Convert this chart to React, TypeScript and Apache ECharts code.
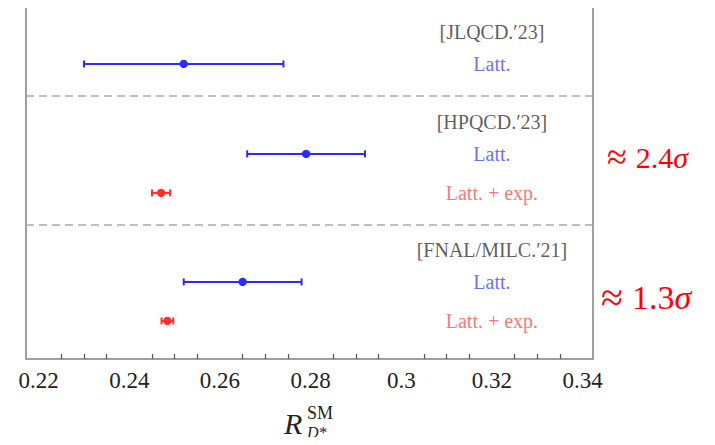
import React, { useEffect, useRef } from "react";
import * as echarts from "echarts";

// ---- data ----
const collaborations = ["[JLQCD.′23]", "[HPQCD.′23]", "[FNAL/MILC.′21]"];
const headerRows = [0.79, 3.58, 7.59];
const separatorRows = [2.78, 6.81];

const pointLabels = ["Latt.", "Latt.", "Latt. + exp.", "Latt.", "Latt. + exp."];
const pointKinds = ["latt", "latt", "exp", "latt", "exp"];
const pointRows = [1.78, 4.59, 5.81, 8.59, 9.81];
const centralValues = [0.252, 0.279, 0.247, 0.265, 0.2484];
const errors = [0.022, 0.013, 0.002, 0.013, 0.0013];

const majorTicks = [0.22, 0.24, 0.26, 0.28, 0.3, 0.32, 0.34];
const minorTicks = [
  0.225, 0.23, 0.235, 0.245, 0.25, 0.255, 0.265, 0.27, 0.275, 0.285, 0.29, 0.295,
  0.305, 0.31, 0.315, 0.325, 0.33, 0.335,
];
const xMin = 0.2172;
const xMax = 0.3423;
const labelX = 0.32;

const tensions = ["2.4", "1.3"];

const FONT = "Liberation Serif, Times New Roman, serif";
const BLUE = "#2b2bff";
const RED = "#ff2e2e";
const BLUE_TXT = "#4747ff";
const RED_TXT = "#ff4f4f";

export default function App() {
  const ref = useRef<HTMLDivElement>(null);
  useEffect(() => {
    if (!ref.current) return;
    const chart = echarts.init(ref.current, null, { renderer: "svg" });

    const errData = centralValues.map((v, i) => ({
      value: [v, pointRows[i], v - errors[i], v + errors[i]],
      kind: pointKinds[i],
    }));

    const headerData = collaborations.map((c, i) => ({ value: [labelX, headerRows[i]], name: c }));
    const pointLabelData = pointLabels.map((l, i) => ({
      value: [labelX, pointRows[i]],
      name: l,
      label: { color: pointKinds[i] === "latt" ? BLUE_TXT : RED_TXT },
    }));

    const sigmaText = (t: string, x: number, y: number, fs: number, approxFs: number, gap: number) => ({
      type: "text",
      x,
      y,
      style: {
        text: `{r|≈}{a|${t}}{s|σ}`,
        verticalAlign: "middle",
        fill: "#ff0000",
        rich: {
          r: { fontFamily: FONT, fontSize: approxFs, fill: "#ff0000", padding: [0, gap, 0, 0] },
          a: { fontFamily: FONT, fontSize: fs, fill: "#ff0000" },
          s: { fontFamily: FONT, fontSize: fs, fontStyle: "italic", fill: "#ff0000" },
        },
      },
    });

    const option: any = {
      animation: false,
      textStyle: { fontFamily: FONT },
      grid: {
        left: 26,
        right: 122,
        top: 7,
        bottom: 86,
        show: true,
        borderColor: "#808080",
        borderWidth: 1.5,
        backgroundColor: "transparent",
        containLabel: false,
        outerBoundsMode: "none",
      },
      xAxis: [
        {
          type: "value",
          min: xMin,
          max: xMax,
          axisLine: { show: false },
          splitLine: { show: false },
          axisTick: {
            show: true,
            inside: true,
            length: 11,
            customValues: majorTicks,
            lineStyle: { color: "#555", width: 1.2 },
          },
          axisLabel: {
            show: true,
            customValues: majorTicks,
            margin: 10,
            fontSize: 23,
            fontFamily: FONT,
            color: "#222",
            formatter: (v: number) => String(+v.toFixed(2)),
          },
        },
        {
          type: "value",
          min: xMin,
          max: xMax,
          position: "bottom",
          axisLine: { show: false },
          splitLine: { show: false },
          axisLabel: { show: false },
          axisTick: {
            show: true,
            inside: true,
            length: 5,
            customValues: minorTicks,
            lineStyle: { color: "#555", width: 1.2 },
          },
        },
      ],
      yAxis: {
        type: "value",
        min: 0,
        max: 11,
        inverse: true,
        show: false,
      },
      series: [
        {
          type: "custom",
          silent: true,
          clip: false,
          data: errData,
          renderItem: (params: any, api: any) => {
            const d = errData[params.dataIndex];
            const color = d.kind === "latt" ? BLUE : RED;
            const y = api.value(1);
            const c = api.coord([api.value(0), y]);
            const l = api.coord([api.value(2), y]);
            const r = api.coord([api.value(3), y]);
            const cap = 3.5;
            const st = { stroke: color, lineWidth: 2 };
            return {
              type: "group",
              children: [
                { type: "line", shape: { x1: l[0], y1: l[1], x2: r[0], y2: r[1] }, style: st },
                { type: "line", shape: { x1: l[0], y1: l[1] - cap, x2: l[0], y2: l[1] + cap }, style: st },
                { type: "line", shape: { x1: r[0], y1: r[1] - cap, x2: r[0], y2: r[1] + cap }, style: st },
                { type: "circle", shape: { cx: c[0], cy: c[1], r: 4.2 }, style: { fill: color } },
              ],
            };
          },
        },
        {
          type: "scatter",
          silent: true,
          symbolSize: 1,
          itemStyle: { color: "transparent" },
          data: headerData,
          label: {
            show: true,
            position: "inside",
            formatter: (p: any) => p.name,
            fontFamily: FONT,
            fontSize: 20,
            color: "#333",
          },
          markLine: {
            silent: true,
            symbol: ["none", "none"],
            label: { show: false },
            lineStyle: { color: "#aaaaaa", width: 1.5, type: [8, 5] },
            data: separatorRows.map((r) => ({ yAxis: r })),
          },
        },
        {
          type: "scatter",
          silent: true,
          symbolSize: 1,
          itemStyle: { color: "transparent" },
          data: pointLabelData,
          label: {
            show: true,
            position: "inside",
            formatter: (p: any) => p.name,
            fontFamily: FONT,
            fontSize: 20,
          },
        },
      ],
      graphic: [
        sigmaText(tensions[0], 607, 157, 30, 36, 9),
        sigmaText(tensions[1], 601, 297, 34, 40, 9),
        {
          type: "text",
          x: 284,
          y: 423,
          style: {
            text: "R",
            verticalAlign: "middle",
            fontFamily: FONT,
            fontSize: 30,
            fontStyle: "italic",
            fill: "#222",
          },
        },
        {
          type: "text",
          x: 307,
          y: 413,
          style: {
            text: "SM",
            verticalAlign: "middle",
            fontFamily: FONT,
            fontSize: 18,
            fill: "#222",
          },
        },
        {
          type: "text",
          x: 307,
          y: 432,
          style: {
            text: "D*",
            verticalAlign: "middle",
            fontFamily: FONT,
            fontSize: 16,
            fontStyle: "italic",
            fill: "#222",
          },
        },
      ],
    };

    chart.setOption(option);
    return () => chart.dispose();
  }, []);

  return <div ref={ref} style={{ width: 715, height: 445, margin: -8 }} />;
}
